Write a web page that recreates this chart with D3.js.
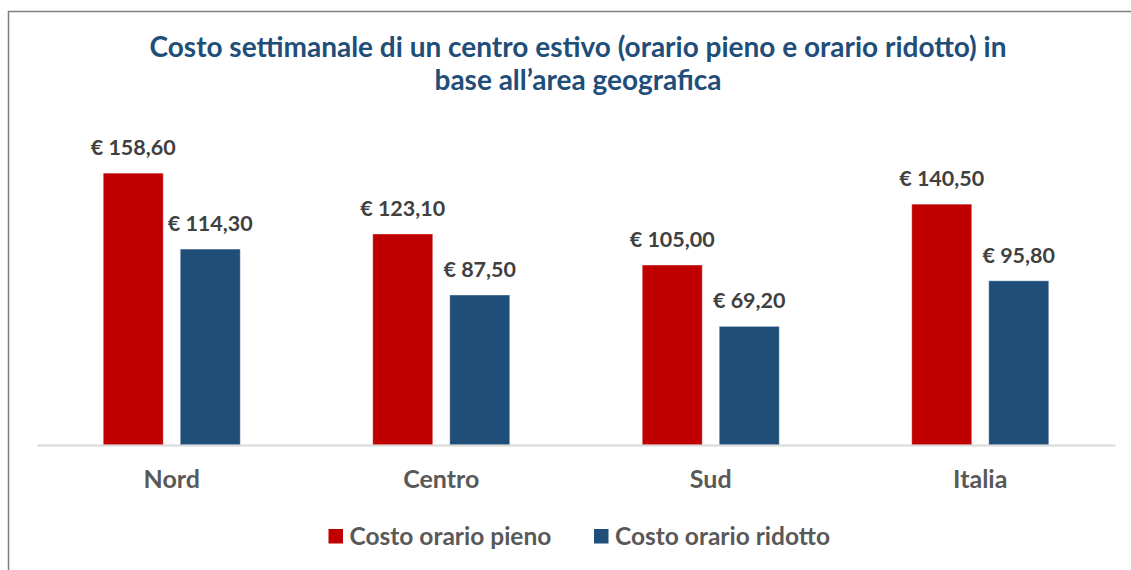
<!DOCTYPE html>
<html>
<head>
<meta charset="utf-8">
<script src="https://cdn.jsdelivr.net/npm/d3@7"></script>
<style>
  html, body { margin: 0; padding: 0; background: #fff; }
  svg { display: block; }
  text { font-family: Lato, "Open Sans", sans-serif; font-weight: 700; }
</style>
</head>
<body>
<svg id="chart" width="1131" height="570"></svg>
<script>
const titleLines = ["Costo settimanale di un centro estivo (orario pieno e orario ridotto) in", "base all\u2019area geografica"];
const categories = ["Nord", "Centro", "Sud", "Italia"];
const seriesNames = ["Costo orario pieno", "Costo orario ridotto"];
const pieno = [158.60, 123.10, 105.00, 140.50];
const ridotto = [114.30, 87.50, 69.20, 95.80];
const seriesColors = ["#c00000", "#1f4e79"];

const W = 1131, H = 570;
const svg = d3.select("#chart");

// frame (cropped on right and bottom)
svg.append("path")
  .attr("d", `M8.5,${H} L8.5,11.5 L${W},11.5`)
  .attr("fill", "none").attr("stroke", "#7f7f7f").attr("stroke-width", 1.5);

// title
svg.append("text")
  .attr("text-anchor", "middle")
  .attr("fill", "#1f4e79")
  .style("font-size", "28px")
  .selectAll("tspan").data(titleLines).join("tspan")
  .attr("x", 578)
  .attr("y", (d, i) => 57 + i * 32.5)
  .text(d => d);

const x0 = d3.scaleBand().domain(categories).range([37, 1115]).paddingInner(0).paddingOuter(0);
const groupW = 137;
const x1 = d3.scaleBand().domain(seriesNames)
  .range([x0.bandwidth() / 2 - groupW / 2, x0.bandwidth() / 2 + groupW / 2])
  .paddingInner(0.221).paddingOuter(0);
const y = d3.scaleLinear().domain([0, 180]).range([445, 445 - 180 * 1.714]);

const rows = categories.map((c, i) => ({ cat: c, vals: [pieno[i], ridotto[i]] }));

const groups = svg.append("g").selectAll("g").data(rows).join("g")
  .attr("transform", d => `translate(${x0(d.cat)},0)`);

groups.selectAll("rect").data(d => d.vals.map((v, j) => ({ v, s: seriesNames[j], j })))
  .join("rect")
  .attr("x", d => x1(d.s))
  .attr("width", x1.bandwidth())
  .attr("y", d => y(d.v))
  .attr("height", d => y(0) - y(d.v))
  .attr("fill", d => seriesColors[d.j])
  .attr("stroke", "#ffffff").attr("stroke-opacity", 0.35).attr("stroke-width", 1);

const fmt = v => "\u20ac " + d3.format(".2f")(v).replace(".", ",");
groups.selectAll("text.val").data(d => d.vals.map((v, j) => ({ v, s: seriesNames[j], j })))
  .join("text").attr("class", "val")
  .attr("x", d => x1(d.s) + x1.bandwidth() / 2)
  .attr("y", d => y(d.v) - 18)
  .attr("text-anchor", "middle")
  .attr("fill", "#404040")
  .style("font-size", "21.5px")
  .text(d => fmt(d.v));

// baseline axis
const xAxis = d3.axisBottom(x0).tickSize(0).tickPadding(0);
const axG = svg.append("g").attr("transform", "translate(0,445)").call(xAxis);
axG.select(".domain").attr("stroke", "#d9d9d9").attr("stroke-width", 2);
axG.selectAll(".tick text")
  .attr("dy", null).attr("y", 43)
  .attr("fill", "#595959")
  .style("font-size", "25px")
  .style("font-family", "Lato, 'Open Sans', sans-serif")
  .style("font-weight", 700);

// legend
const legendX = [328.5, 594];
const leg = svg.append("g").selectAll("g").data(seriesNames).join("g")
  .attr("transform", (d, i) => `translate(${legendX[i]},529)`);
leg.append("rect").attr("width", 14.5).attr("height", 14.5).attr("fill", (d, i) => seriesColors[i]);
leg.append("text").attr("x", 21).attr("y", 15.5)
  .attr("fill", "#595959").style("font-size", "24.5px").text(d => d);
</script>
</body>
</html>
